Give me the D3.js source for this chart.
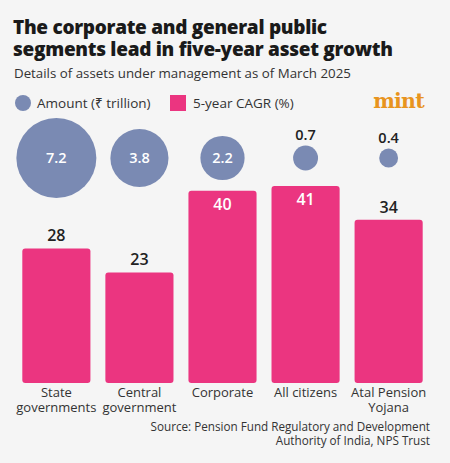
<!DOCTYPE html>
<html><head><meta charset="utf-8">
<script src="https://cdn.jsdelivr.net/npm/d3@7"></script>
<style>
html,body{margin:0;padding:0;background:#f5f5f5;}
svg{display:block;}
</style></head>
<body>
<svg id="chart" width="450" height="463"></svg>
<script>
const categories = [["State","governments"],["Central","government"],["Corporate"],["All citizens"],["Atal Pension","Yojana"]];
const amounts = [7.2, 3.8, 2.2, 0.7, 0.4];
const cagr = [28, 23, 40, 41, 34];
const titleLines = ["The corporate and general public","segments lead in five-year asset growth"];
const subtitle = "Details of assets under management as of March 2025";
const sourceLines = ["Source: Pension Fund Regulatory and Development","Authority of India, NPS Trust"];

const PINK = "#eb3580", BLUE = "#7a8ab3", BG = "#f5f5f5";
const FONT = "'Open Sans', 'Noto Sans', sans-serif";
const svg = d3.select("#chart");
svg.append("rect").attr("width",450).attr("height",463).attr("fill",BG);

// title
const title = svg.append("g").selectAll("text").data(titleLines).join("text")
  .attr("x",13).attr("y",(d,i)=>34+i*21.5)
  .attr("font-family","'Open Sans', Lato, sans-serif").attr("font-weight",800)
  .attr("font-size",21).attr("letter-spacing",-0.3).attr("fill","#1a1a1a").text(d=>d);
const w2 = title.nodes()[1].getComputedTextLength();
if (w2 > 0) title.attr("font-size", 21 * 381 / w2);

svg.append("text").attr("x",14).attr("y",78).attr("font-family",FONT)
  .attr("font-size",13.3).attr("fill","#333").text(subtitle);

// legend
svg.append("circle").attr("cx",23).attr("cy",103).attr("r",8).attr("fill",BLUE);
svg.append("text").attr("x",37).attr("y",107.5).attr("font-family",FONT).attr("font-size",13.5).attr("fill","#333").text("Amount (₹ trillion)");
svg.append("rect").attr("x",170).attr("y",95).attr("width",16).attr("height",16).attr("fill",PINK);
svg.append("text").attr("x",193).attr("y",107.5).attr("font-family",FONT).attr("font-size",13.5).attr("fill","#333").text("5-year CAGR (%)");
svg.append("text").attr("x",398.5).attr("y",108).attr("text-anchor","middle")
  .attr("font-family","'DejaVu Serif', serif").attr("font-weight","bold").attr("font-size",20.5)
  .attr("letter-spacing",-0.8).attr("fill","#e8941e").text("mint");

// scales
const idx = d3.range(categories.length);
const x = d3.scaleBand().domain(idx).range([14, 431]).paddingInner(0.18).paddingOuter(0.1);
const y = d3.scaleLinear().domain([0, 41]).range([383, 186]);
const r = d3.scaleSqrt().domain([0, 7.2]).range([0, 40]);
const cy = 158;

// bubbles
const bub = svg.append("g");
bub.selectAll("circle").data(amounts).join("circle")
  .attr("cx",(d,i)=>x(i)+x.bandwidth()/2).attr("cy",cy).attr("r",d=>r(d)).attr("fill",BLUE);
bub.selectAll("text").data(amounts).join("text")
  .attr("x",(d,i)=>x(i)+x.bandwidth()/2)
  .attr("y",d=> r(d) > 15 ? cy+5 : cy - r(d) - 6)
  .attr("text-anchor","middle").attr("font-family",FONT).attr("font-weight",600).attr("font-size",14.5)
  .attr("fill",d=> r(d) > 15 ? "#fff" : "#222").text(d=>d.toFixed(1));

// bars
const inside = [false, false, true, true, false];
const bars = svg.append("g");
bars.selectAll("rect").data(cagr).join("rect")
  .attr("x",(d,i)=>x(i)).attr("width",x.bandwidth())
  .attr("y",d=>y(d)).attr("height",d=>y(0)-y(d)).attr("rx",3).attr("fill",PINK);
bars.selectAll("text").data(cagr).join("text")
  .attr("x",(d,i)=>x(i)+x.bandwidth()/2)
  .attr("y",(d,i)=> inside[i] ? y(d)+19 : y(d)-7)
  .attr("text-anchor","middle").attr("font-family",FONT).attr("font-weight",600).attr("font-size",16)
  .attr("fill",(d,i)=> inside[i] ? "#fff" : "#222")
  .text(d=>d);

// category labels
const cat = svg.append("g");
categories.forEach((lines,i)=>{
  const t = cat.append("text").attr("text-anchor","middle").attr("font-family",FONT)
    .attr("font-size",13).attr("fill","#333");
  lines.forEach((l,j)=>{
    t.append("tspan").attr("x",x(i)+x.bandwidth()/2).attr("y",397+j*15).text(l);
  });
});

// source
svg.append("g").selectAll("text").data(sourceLines).join("text")
  .attr("x",430).attr("y",(d,i)=>431+i*14).attr("text-anchor","end")
  .attr("font-family",FONT).attr("font-size",11.7).attr("fill","#333").text(d=>d);
</script>
</body></html>
